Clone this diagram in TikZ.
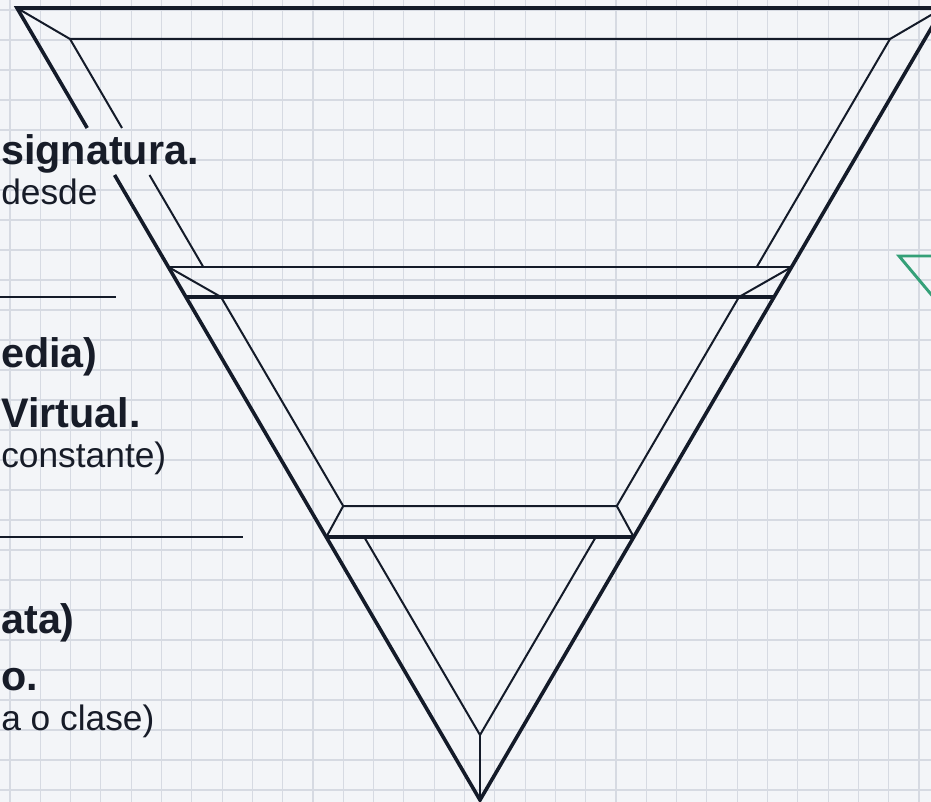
\documentclass[tikz,border=0pt]{standalone}
\usepackage{fontspec}
\setmainfont{Liberation Sans}
\definecolor{bg}{HTML}{F3F5F8}
\definecolor{gridc}{HTML}{D6DAE2}
\definecolor{ink}{HTML}{141B29}
\definecolor{txt}{HTML}{171C28}
\definecolor{teal}{HTML}{34A078}
\begin{document}
\begin{tikzpicture}[x=0.75pt,y=-0.75pt,
  gridline/.style={draw=gridc, line width=0.8pt},
  thickline/.style={draw=ink, line width=2.7pt, line join=miter},
  midline/.style={draw=ink, line width=2pt},
  thinline/.style={draw=ink, line width=1.5pt, line join=miter},
  sepline/.style={draw=ink, line width=1.9pt},
  boldtxt/.style={font=\fontsize{31}{37}\selectfont\bfseries, text=txt, inner sep=0pt, anchor=base west},
  regtxt/.style={font=\fontsize{26.5}{32}\selectfont, text=txt, inner sep=0pt, anchor=base west},
  greenline/.style={draw=teal, line width=2.2pt, line join=miter}]
\useasboundingbox (0,0) rectangle (931,802);
\clip (0,0) rectangle (931,802);
\fill[bg] (0,0) rectangle (931,802);
\foreach \k in {0,...,30} \draw[gridline] ({10+30.3*\k},0) -- ({10+30.3*\k},802);
\foreach \k in {0,...,26} \draw[gridline] (0,{10+30*\k}) -- (931,{10+30*\k});

% key points
\coordinate (TL) at (17,8);
\coordinate (TR) at (943,8);
\coordinate (A) at (480,800);
\coordinate (I1L) at (70,39);
\coordinate (I1R) at (890,39);
\coordinate (B1L) at (168.4,267);
\coordinate (B1R) at (791.6,267);
\coordinate (I1Lb) at (203.3,267);
\coordinate (I1Rb) at (756.7,267);
\coordinate (O2L) at (186,297);
\coordinate (O2R) at (774,297);
\coordinate (I2L) at (221,297);
\coordinate (I2R) at (739,297);
\coordinate (I2Lb) at (343.2,506);
\coordinate (I2Rb) at (616.8,506);
\coordinate (O3L) at (326.3,537);
\coordinate (O3R) at (633.7,537);
\coordinate (I3L) at (364.2,537);
\coordinate (I3R) at (595.8,537);
\coordinate (I3B) at (480,735);
\coordinate (GoA) at (87.2,128);
\coordinate (GoB) at (114.6,175);
\coordinate (GiA) at (122,128);
\coordinate (GiB) at (149.5,175);

% tier 1
\draw[thinline] (GiA) -- (I1L) -- (I1R) -- (I1Rb);
\draw[thinline] (GiB) -- (I1Lb);
\draw[thinline] (TL) -- (I1L);
\draw[thinline] (TR) -- (I1R);
% band 1
\draw[midline] (B1L) -- (B1R);
\draw[thickline] (O2L) -- (O2R);
% tier 2
\draw[thinline] (B1L) -- (I2L) -- (I2Lb) -- (I2Rb) -- (I2R) -- (B1R);
\draw[thinline] (I2Lb) -- (O3L);
\draw[thinline] (I2Rb) -- (O3R);
\draw[thickline] (O3L) -- (O3R);
% tier 3
\draw[thinline] (I3L) -- (I3B) -- (I3R);
\draw[thinline] (I3B) -- (A);
% outer outline
\draw[thickline] (GoA) -- (TL) -- (TR) -- (A) -- (GoB);

% left texts
\node[boldtxt] (t1) at (1,165) {signatura.};
\node[regtxt] (t2) at (1,205) {desde};
\coordinate (s1a) at (0,297);
\coordinate (s1b) at (116,297);
\draw[sepline] (s1a) -- (s1b);
\node[boldtxt] (t3) at (1,367) {edia)};
\node[boldtxt] (t4) at (1,427) {Virtual.};
\node[regtxt] (t5) at (1,467) {constante)};
\coordinate (s2a) at (0,537);
\coordinate (s2b) at (243,537);
\draw[sepline] (s2a) -- (s2b);
\node[boldtxt] (t6) at (1,633) {ata)};
\node[boldtxt] (t7) at (1,690) {o.};
\node[regtxt] (t8) at (1,730) {a o clase)};

% green triangle corner
\coordinate (G0) at (945,256);
\coordinate (G1) at (899,256);
\coordinate (G2) at (940,305);
\draw[greenline] (G0) -- (G1) -- (G2);
\end{tikzpicture}
\end{document}
